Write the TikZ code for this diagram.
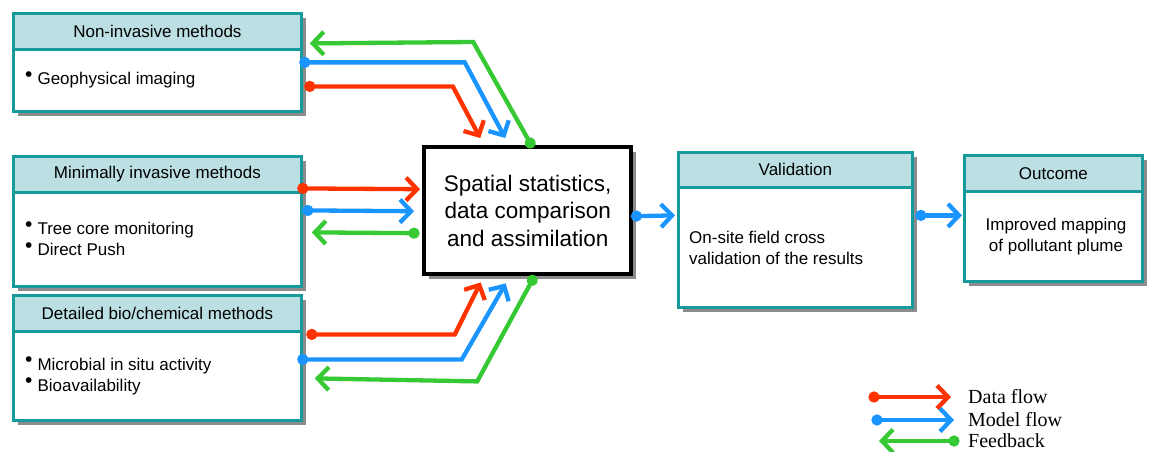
\documentclass[tikz,border=0pt]{standalone}
\usepackage{fontspec}
\setmainfont{Liberation Sans}
\newfontfamily\legendfont{Liberation Serif}
\usetikzlibrary{arrows.meta, positioning, calc, shadows}
\definecolor{panelline}{HTML}{169A9B}
\definecolor{headfill}{HTML}{BBDFE2}
\definecolor{shade}{HTML}{8C8C8C}
\definecolor{datared}{HTML}{FF3300}
\definecolor{modelblue}{HTML}{1A94FF}
\definecolor{fbgreen}{HTML}{37C933}
\newcommand{\bul}{\raisebox{0.4ex}{\fontsize{21}{21}\selectfont\textbullet}\hspace{5pt}}

\begin{document}
\begin{tikzpicture}[x=1pt, y=-1pt,
  every node/.style={font=\fontsize{17}{21}\selectfont},
  shadowed/.style={drop shadow={shadow xshift=5pt, shadow yshift=-5pt, fill=shade, opacity=1}},
  panel/.style={draw=panelline, line width=2.8pt, fill=white, anchor=north west,
                inner sep=0pt, shadowed},
  panelhead/.style={draw=panelline, line width=2.8pt, fill=headfill, anchor=north west,
                    minimum height=36pt, inner sep=0pt},
  items/.style={anchor=west, align=left, inner sep=0pt},
  flow/.style={line width=4.3pt, {Circle[length=11pt]}-{Straight Barb[length=11pt,width=23pt]}},
  dataflow/.style={flow, draw=datared},
  modelflow/.style={flow, draw=modelblue},
  feedback/.style={flow, draw=fbgreen},
  legendtext/.style={font=\legendfont\fontsize{20}{20}\selectfont, anchor=west, inner sep=0pt},
]
\useasboundingbox (0,0) rectangle (1151,452);

% measurement panels
\node[panel, minimum width=288pt, minimum height=98pt] (noninv) at (12,12) {};
\node[panelhead, minimum width=288pt] (noninvhead) at (noninv.north west) {Non-invasive methods};
\node[items] (noninvitems) at (25,80) {\bul Geophysical imaging};

\node[panel, minimum width=288pt, minimum height=130pt] (mini) at (12,155) {};
\node[panelhead, minimum width=288pt] (minihead) at (mini.north west) {Minimally invasive methods};
\node[items] (miniitems) at (25,238.5) {\bul Tree core monitoring\\\bul Direct Push};

\node[panel, minimum width=288pt, minimum height=125pt] (detail) at (12,294) {};
\node[panelhead, minimum width=288pt] (detailhead) at (detail.north west) {Detailed bio/chemical methods};
\node[items] (detailitems) at (25,376) {\bul Microbial in situ activity\\\bul Bioavailability};

% central block
\node[draw=black, line width=4.4pt, fill=white, minimum width=207pt, minimum height=127pt,
      anchor=north west, align=center, font=\fontsize{22.5}{27.5}\selectfont, shadowed]
      (hub) at (422,145) {Spatial statistics,\\data comparison\\and assimilation};

\node[panel, minimum width=234pt, minimum height=155pt] (valid) at (677,151) {};
\node[panelhead, minimum width=234pt, minimum height=35pt] (validhead) at (valid.north west) {Validation};
\node[items] (validitems) at (689,247.5) {On-site field cross\\validation of the results};

\node[panel, minimum width=178pt, minimum height=126pt] (outcome) at (963,154) {};
\node[panelhead, minimum width=178pt] (outcomehead) at (outcome.north west) {Outcome};
\node[items, anchor=center, align=center] (outcomeitems) at (1056,236.5) {Improved mapping\\of pollutant plume};

% top panel
\draw[dataflow]  ($(noninv.east)+(1.5,24)$) -- ++(148.5,0) -- ($(hub.north)+(-47.5,-7)$);
\draw[modelflow] ($(noninv.east)+(-3.5,0)$) -- ++(165.5,0) -- ($(hub.north)+(-22.5,-7)$);
\draw[feedback]  ($(hub.north)+(5.2,2.8)$) -- ++(-59.7,-105.8) -- ($(noninv.east)+(7,-19)$);

% middle panel
\draw[dataflow]  ($(mini.east)+(-5.5,-33)$) -- ($(hub.west)+(-2,-21.5)$);
\draw[modelflow] ($(mini.east)+(-0.5,-11)$) -- ($(hub.west)+(-8,0.5)$);
\draw[feedback]  ($(hub.west)+(-2.5,22.5)$) -- ($(mini.east)+(9,11)$);

% bottom panel
\draw[dataflow]  ($(detail.east)+(3.5,-23.5)$) -- ++(148.5,0) -- ($(hub.south)+(-47,6)$);
\draw[modelflow] ($(detail.east)+(-5.5,1.5)$) -- ++(164.5,0) -- ($(hub.south)+(-22,7)$);
\draw[feedback]  ($(hub.south)+(7.2,-0.9)$) -- ++(-57.7,105.9) -- ($(detail.east)+(12,20.5)$);

% to validation and outcome
\draw[modelflow] ($(hub.east)+(-2.5,5.5)$) -- ($(valid.west)+(-2,-14.5)$);
\draw[modelflow] ($(valid.east)+(1.5,-14.5)$) -- ($(outcome.west)+(-1,-3)$);

% legend
\node[legendtext] (ldata) at (968,397) {Data flow};
\node[legendtext] (lmodel) at (968,420) {Model flow};
\node[legendtext] (lfeed) at (968,441) {Feedback};
\draw[dataflow]  ($(ldata.west)+(-99.5,0)$) -- ($(ldata.west)+(-17,0)$);
\draw[modelflow] ($(lmodel.west)+(-96.5,0)$) -- ($(lmodel.west)+(-14,0)$);
\draw[feedback]  ($(lfeed.west)+(-8.5,0)$) -- ($(lfeed.west)+(-89,0)$);

\end{tikzpicture}
\end{document}
